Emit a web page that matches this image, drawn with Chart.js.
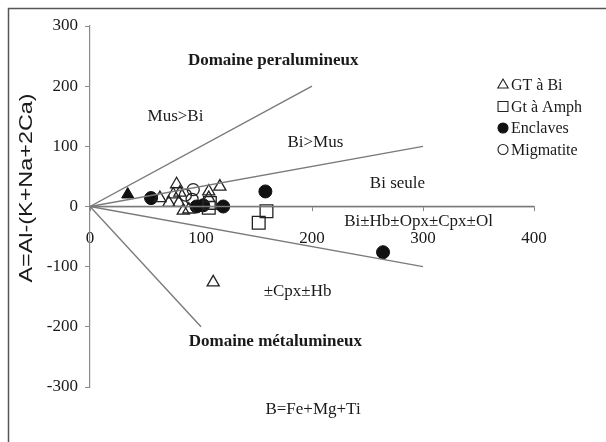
<!DOCTYPE html>
<html>
<head>
<meta charset="utf-8">
<script src="https://cdn.jsdelivr.net/npm/chart.js@4/dist/chart.umd.min.js"></script>
<style>
  html, body { margin: 0; padding: 0; background: #fff; }
  canvas { display: block; }
</style>
</head>
<body>
<canvas id="c" width="606" height="442"></canvas>
<script>
// Axis ticks (B on x, A on y)
const xTicks = [0, 100, 200, 300, 400];
const yTicks = [-300, -200, -100, 0, 100, 200, 300];

// Samples: [B, A]
const gtBi = [[63, 14], [71, 6], [78, 37], [75, 20], [81, 23], [80, 6], [84, -7], [89, -5],
              [107, 25], [107, 14], [117, 33], [111, -126]];
const gtBiFilled = [[34, 20]];
const gtAmph = [[107, -2], [108, 6], [152, -27], [159, -8]];
const enclaves = [[55, 14], [96, 0], [102, 2], [120, 0], [158, 25], [264, -76]];
const migmatite = [[93, 28], [86, 19], [92, 12]];

// Field boundaries radiating from the origin: [[B0, A0], [B1, A1]]
const boundaries = [
  [[0, 0], [200, 200]],
  [[0, 0], [300, 100]],
  [[0, 0], [400, 0]],
  [[0, 0], [300, -100]],
  [[0, 0], [100, -200]]
];

// Field names placed at [B, A]
const fieldLabels = [
  { text: 'Domaine peralumineux', at: [165, 243], bold: true },
  { text: 'Mus>Bi', at: [77, 150] },
  { text: 'Bi>Mus', at: [203, 106] },
  { text: 'Bi seule', at: [277, 38] },
  { text: 'Bi±Hb±Opx±Cpx±Ol', at: [296, -25] },
  { text: '±Cpx±Hb', at: [187, -141] },
  { text: 'Domaine métalumineux', at: [167, -224], bold: true }
];

const xTitle = 'B=Fe+Mg+Ti';
const yTitle = 'A=Al-(K+Na+2Ca)';

const FONT = '"Liberation Serif", "Times New Roman", serif';
const SANS = '"Liberation Sans", Arial, sans-serif';
const toXY = arr => arr.map(([x, y]) => ({ x, y }));

const datasets = [];
boundaries.forEach(seg => datasets.push({
  label: '', data: toXY(seg), showLine: true, borderColor: '#7a7a7a', borderWidth: 1.4,
  pointRadius: 0, pointHoverRadius: 0, fill: false, inLegend: false
}));
datasets.push(
  { label: 'GT à Bi', data: toXY(gtBi), pointStyle: 'triangle', pointRadius: 7,
    borderColor: '#222', backgroundColor: 'rgba(255,255,255,0)', borderWidth: 1.3, inLegend: true },
  { label: '', data: toXY(gtBiFilled), pointStyle: 'triangle', pointRadius: 7,
    borderColor: '#111', backgroundColor: '#111', borderWidth: 1, inLegend: false },
  { label: 'Gt à Amph', data: toXY(gtAmph), pointStyle: 'rect', pointRadius: 9,
    borderColor: '#222', backgroundColor: 'rgba(255,255,255,0)', borderWidth: 1.3, inLegend: true },
  { label: 'Enclaves', data: toXY(enclaves), pointStyle: 'circle', pointRadius: 6.5,
    borderColor: '#111', backgroundColor: '#111', borderWidth: 1, inLegend: true },
  { label: 'Migmatite', data: toXY(migmatite), pointStyle: 'circle', pointRadius: 6,
    borderColor: '#222', backgroundColor: 'rgba(255,255,255,0)', borderWidth: 1.3, inLegend: true }
);

// Frame, field names, axis titles and the legend, drawn on top of the plot
const decorations = {
  id: 'decorations',
  beforeDraw(chart) {
    const ctx = chart.ctx;
    ctx.save();
    ctx.fillStyle = '#ffffff';
    ctx.fillRect(0, 0, chart.width, chart.height);
    ctx.restore();
  },
  afterDraw(chart) {
    const ctx = chart.ctx;
    const xs = chart.scales.x, ys = chart.scales.y;
    const area = chart.chartArea;
    ctx.save();

    // outer frame
    ctx.strokeStyle = '#555';
    ctx.lineWidth = 1.5;
    ctx.beginPath();
    ctx.moveTo(8.5, chart.height + 2);
    ctx.lineTo(8.5, 8.5);
    ctx.lineTo(chart.width + 2, 8.5);
    ctx.stroke();

    // field names
    ctx.fillStyle = '#1a1a1a';
    ctx.textAlign = 'center';
    ctx.textBaseline = 'middle';
    fieldLabels.forEach(l => {
      ctx.font = (l.bold ? 'bold ' : '') + '17px ' + FONT;
      ctx.fillText(l.text, xs.getPixelForValue(l.at[0]), ys.getPixelForValue(l.at[1]));
    });

    // axis titles
    ctx.font = '17px ' + FONT;
    ctx.fillText(xTitle, (area.left + area.right) / 2 + 1, 410);
    ctx.save();
    ctx.translate(27, 188);
    ctx.rotate(-Math.PI / 2);
    ctx.scale(1.3, 1);
    ctx.font = '18px ' + SANS;
    ctx.fillText(yTitle, 0, 0);
    ctx.restore();

    // legend
    const items = chart.data.datasets.filter(d => d.inLegend);
    const lx = 503, ly0 = 85, step = 21.5;
    ctx.textAlign = 'left';
    ctx.font = '16px ' + FONT;
    items.forEach((d, i) => {
      const y = ly0 + i * step;
      const opts = {
        pointStyle: d.pointStyle,
        radius: d.pointStyle === 'rect' ? 7 : (d.pointStyle === 'triangle' ? 6 : 5),
        rotation: 0,
        borderWidth: 1.1
      };
      ctx.strokeStyle = d.borderColor;
      ctx.fillStyle = d.backgroundColor;
      ctx.lineWidth = 1.1;
      if (Chart.helpers && Chart.helpers.drawPoint) {
        Chart.helpers.drawPoint(ctx, opts, lx, y);
      }
      ctx.fillStyle = '#1a1a1a';
      ctx.fillText(d.label, lx + 8, y + 1);
    });
    ctx.restore();
  }
};

new Chart(document.getElementById('c'), {
  type: 'scatter',
  data: { datasets },
  options: {
    responsive: false,
    devicePixelRatio: 1,
    animation: false,
    events: [],
    layout: { padding: { left: 10, top: 26, right: 72, bottom: 55 } },
    plugins: { legend: { display: false }, tooltip: { enabled: false } },
    scales: {
      x: {
        type: 'linear',
        min: xTicks[0], max: xTicks[xTicks.length - 1],
        position: { y: 0 },
        afterFit: s => { s.height = 0; },
        afterBuildTicks: s => { s.ticks = xTicks.map(v => ({ value: v })); },
        grid: { drawOnChartArea: false, drawTicks: true, tickLength: 4, color: '#8a8a8a' },
        border: { color: '#8a8a8a', width: 1.2 },
        ticks: { color: '#1a1a1a', font: { family: FONT, size: 17 }, padding: 18,
                 maxRotation: 0, autoSkip: false }
      },
      y: {
        type: 'linear',
        min: yTicks[0], max: yTicks[yTicks.length - 1],
        position: 'left',
        afterFit: s => { s.width = 80; },
        afterBuildTicks: s => { s.ticks = yTicks.map(v => ({ value: v })); },
        grid: { drawOnChartArea: false, drawTicks: true, tickLength: 5, color: '#8a8a8a' },
        border: { color: '#8a8a8a', width: 1.2 },
        ticks: { color: '#1a1a1a', font: { family: FONT, size: 17 }, padding: 7,
                 autoSkip: false }
      }
    }
  },
  plugins: [decorations]
});
</script>
</body>
</html>
